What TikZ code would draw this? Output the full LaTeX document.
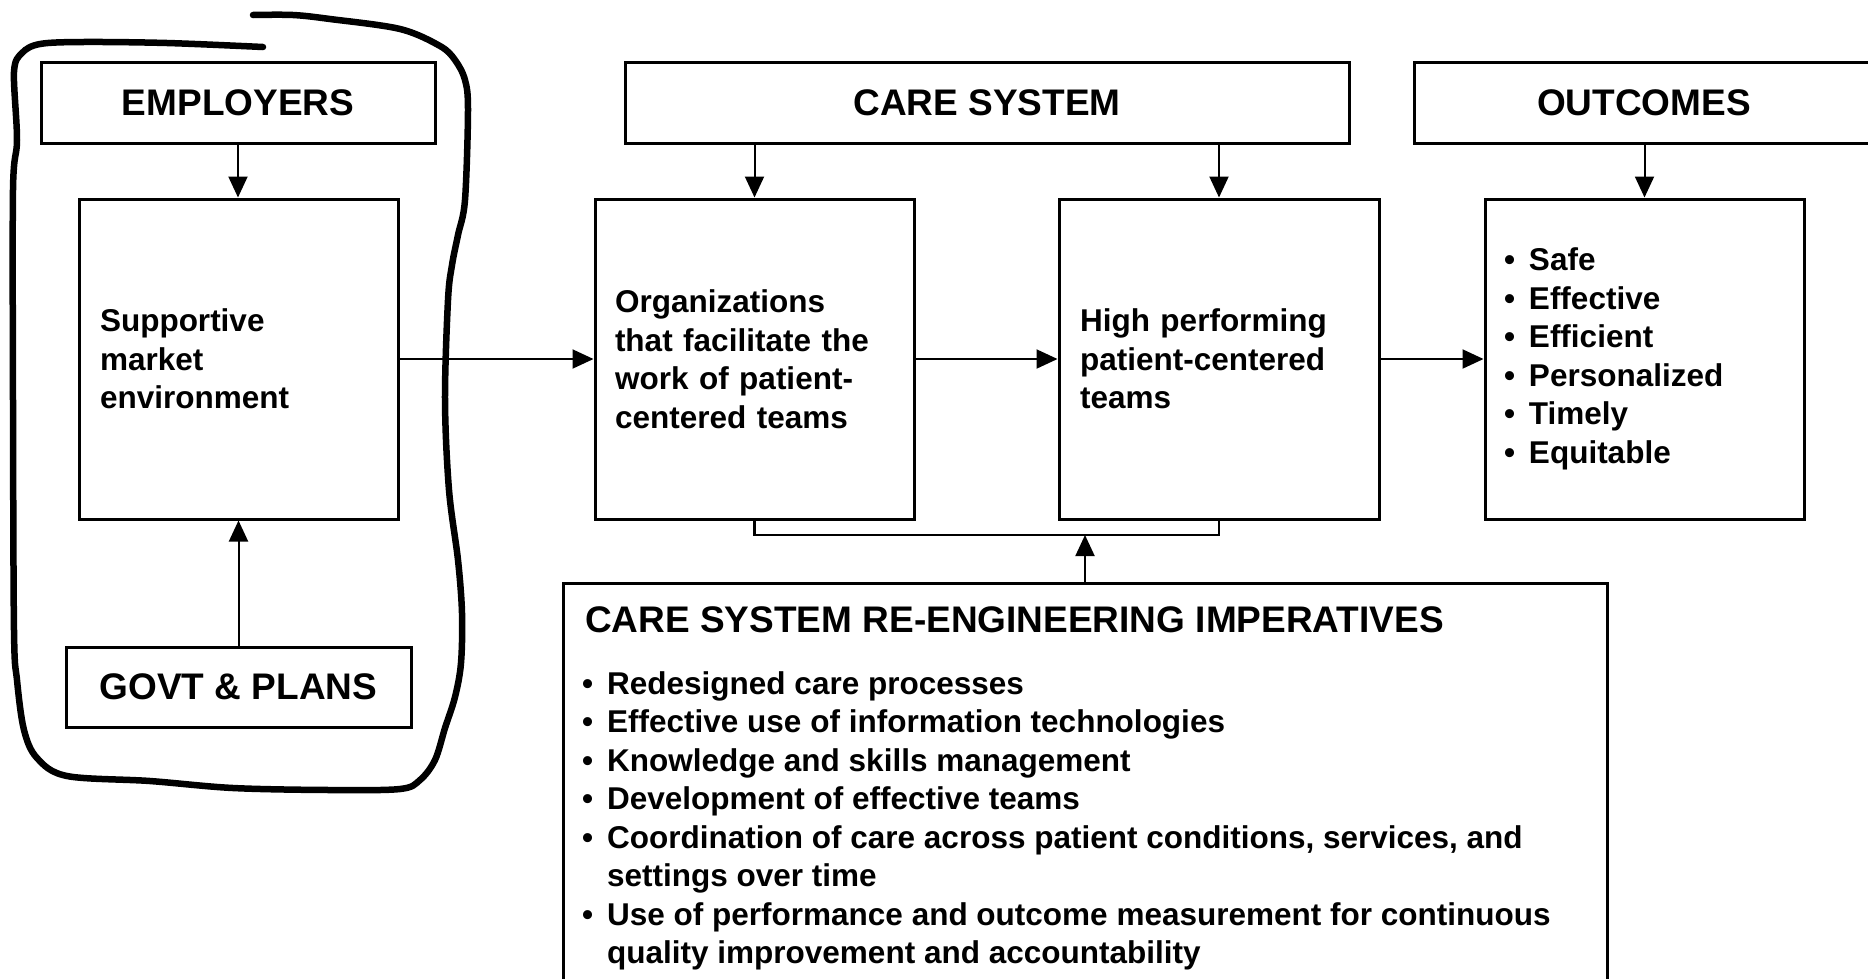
\documentclass[tikz,border=0pt]{standalone}
\usepackage{fontspec}
\setmainfont{Liberation Sans}
\usetikzlibrary{arrows.meta}
\newcommand\mybody{\bfseries\fontsize{31.5}{38.5}\selectfont}
\newcommand\myhead{\bfseries\fontsize{37}{44}\selectfont}
\newcommand\mybul{\makebox[25pt][l]{\textbullet}}
\newcommand\myind{\hspace*{25pt}}
\begin{document}
\begin{tikzpicture}[x=1pt,y=-1pt,
  box/.style={draw, line width=3pt, rectangle, inner sep=0pt, font=\mybody},
  head/.style={box, font=\myhead, minimum height=81pt},
  tall/.style={box, minimum width=319pt, minimum height=320pt, align=left},
  conn/.style={line width=2pt, -{Triangle[length=21pt,width=19pt]}},
  plain/.style={line width=2.5pt},
  loopline/.style={line width=6.5pt, line cap=round, line join=round}]
\clip (0,0) rectangle (1868,978);
\fill[white] (0,0) rectangle (1868,978);

% header boxes
\node[head, minimum width=394pt] (emp) at (238,102.5) {EMPLOYERS};
\node[head, minimum width=724pt] (cs) at (987,103) {CARE SYSTEM};
\node[head, minimum width=460pt] (out) at (1644,103) {OUTCOMES};
\node[head, minimum width=345pt, minimum height=80pt] (govt) at (238.5,687) {GOVT \& PLANS};

% tall boxes
\node[tall, text width=277pt, inner xsep=21pt] (supp) at (238.5,359) {Supportive\\market\\environment};
\node[tall, text width=279pt, inner xsep=20pt] (org) at (754.5,359) {Organizations\\that facilitate the\\work of patient-\\centered teams};
\node[tall, text width=278pt, inner xsep=21pt, minimum width=320pt] (hp) at (1219,359) {High performing\\patient-centered\\teams};
\node[tall, text width=281pt, inner xsep=19pt] (olist) at (1644.5,359) {\mybul Safe\\\mybul Effective\\\mybul Efficient\\\mybul Personalized\\\mybul Timely\\\mybul Equitable};

% bottom box
\node[box, minimum width=1044pt, minimum height=420pt] (imp) at (1085,793) {};
\node[anchor=west, inner sep=0pt, font=\myhead] (imptitle) at (585,620) {CARE SYSTEM RE-ENGINEERING IMPERATIVES};
\node[anchor=base west, inner sep=0pt, align=left, font=\mybody] (implist) at (582,963.5)
  {\mybul Redesigned care processes\\
   \mybul Effective use of information technologies\\
   \mybul Knowledge and skills management\\
   \mybul Development of effective teams\\
   \mybul Coordination of care across patient conditions, services, and\\
   \myind settings over time\\
   \mybul Use of performance and outcome measurement for continuous\\
   \myind quality improvement and accountability};

% connectors
\draw[conn] (emp.south) -- (emp.south |- supp.north);
\draw[conn] (govt.north) -- (govt.north |- supp.south);
\draw[conn] (cs.south -| org.north) -- (org.north);
\draw[conn] (cs.south -| hp.north) -- (hp.north);
\draw[conn] (out.south -| olist.north) -- (olist.north);
\draw[conn] (supp.east) -- (org.west);
\draw[conn] (org.east) -- (hp.west);
\draw[conn] (hp.east) -- (olist.west);
\coordinate (bl) at (754.5,535);
\coordinate (br) at (1219,535);
\draw[plain] (org.south) -- (bl) -- (br) -- (hp.south);
\draw[conn] (imp.north) -- (imp.north |- bl);

% hand-drawn loop
\draw[loopline] plot[smooth, tension=0.55] coordinates {
  (263,47) (167,43) (83,42) (40,44) (22,53) (14,72) (17,140) (13,190)
  (13,400) (14,630) (17,680) (24,730) (37,758) (67,776) (150,781)
  (233,788) (330,790) (400,789) (420,780) (435,760) (445,728) (455,697)
  (461,663) (462,613) (458,560) (449,490) (445,400) (448,300) (452,265)
  (458,235) (465,200) (468,110) (465,80) (455,60) (440,46) (400,29)
  (330,19) (293,15) (253,15)};
\end{tikzpicture}
\end{document}
